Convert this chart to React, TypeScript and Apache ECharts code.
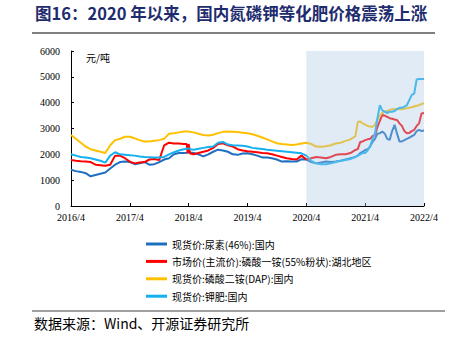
import React, { useEffect, useRef } from "react";
import * as echarts from "echarts";

// x positions: months since 2016/4
const months = [
  0, 1, 2, 3, 4, 5, 6, 7, 8, 9, 10, 11, 12, 13, 14, 15, 16, 17, 18, 19, 20, 21, 22, 23,
  23.6, 23.8, 24, 24.3,
  25, 26, 27, 28, 29, 30, 31, 32, 33, 34, 35, 36, 37, 38, 39, 40, 41, 42, 43, 44, 45, 46,
  47, 48, 49, 50, 51, 52, 53, 54, 55, 56, 57, 58,
  58.5, 59, 59.5, 60, 60.5, 61, 61.5, 62, 62.5, 63, 63.5, 64, 64.5, 65, 65.5, 66, 66.5, 67,
  67.5, 68, 68.5, 69, 69.5, 70, 70.5, 71, 71.5, 72,
];

const seriesNames = [
  "现货价:尿素(46%):国内",
  "市场价(主流价):磷酸一铵(55%粉状):湖北地区",
  "现货价:磷酸二铵(DAP):国内",
  "现货价:钾肥:国内",
];

const urea = [
  1400, 1350, 1320, 1270, 1150, 1200, 1250, 1300, 1450, 1600, 1700, 1720, 1700, 1620, 1650, 1700, 1600, 1620, 1700, 1800, 1850, 2000, 2050, 2050,
  2060, 2070, 2080, 2070,
  2050, 2000, 1920, 2000, 2100, 2180, 2150, 2100, 2000, 1980,
  2030, 2040, 2000, 1950, 1880, 1880, 1850, 1800, 1720, 1730,
  1720, 1720, 1810, 1800, 1700, 1650, 1680, 1720, 1700, 1720,
  1750, 1800, 1850, 1900,
  1950, 2050, 2100, 2170, 2200, 2300, 2480, 2600, 2800, 2820,
  2880, 2800, 2600, 2560, 2900, 3140, 2800, 2500, 2500, 2550,
  2600, 2650, 2700, 2750, 2900, 2950, 2900, 2920,
];

const map = [
  1780, 1750, 1730, 1720, 1700, 1600, 1580, 1560, 1600, 1950, 1950, 1850, 1720, 1650, 1680, 1700, 1800, 1820, 1780, 2350, 2450, 2420, 2420, 2400,
  2400, 2050, 2400, 2030,
  2000, 2050, 2100, 2150, 2250, 2400, 2430, 2350, 2300, 2200,
  2150, 2120, 2100, 2080, 2050, 2040, 2000, 1950, 1900, 1850,
  1820, 1800, 1950, 1800, 1850, 1900, 1880, 1850, 1900, 1980,
  2000, 2000, 2050, 2170,
  2200, 2480, 2500, 2550, 2580, 2600, 2700, 2750, 3050, 3300,
  3530, 3500, 3450, 3400, 3380, 3350, 3330, 3200, 3100, 2900,
  2820, 2830, 2900, 2950, 3100, 3200, 3580, 3600,
];

const dap = [
  2750, 2600, 2450, 2300, 2200, 2150, 2100, 2050, 2350, 2550, 2600, 2680, 2680, 2620, 2550, 2500, 2500, 2530, 2550, 2600, 2800, 2820, 2850, 2880,
  2880, 2880, 2880, 2870,
  2850, 2800, 2750, 2730, 2760, 2820, 2870, 2880, 2870, 2860,
  2840, 2820, 2780, 2720, 2650, 2580, 2500, 2430, 2400, 2380,
  2360, 2380, 2420, 2450, 2400, 2300, 2290, 2310, 2350, 2420,
  2450, 2520, 2580, 2700,
  3250, 3270, 3200, 3150, 3100, 3080, 3060, 3150, 3350, 3500,
  3600, 3650, 3680, 3720, 3750, 3750, 3760, 3750, 3750, 3760,
  3780, 3800, 3820, 3850, 3880, 3900, 3950, 3980,
];

const potash = [
  2000, 1950, 1900, 1880, 1850, 1800, 1750, 1680, 1950, 2080, 2000, 1980, 1960, 1950, 1920, 1900, 1890, 1880, 1880, 1900, 2000, 2080, 2150, 2200,
  2220, 2220, 2230, 2200,
  2180, 2220, 2250, 2280, 2300, 2450, 2480, 2380, 2350, 2340,
  2330, 2300, 2250, 2230, 2210, 2180, 2160, 2140, 2120, 2100,
  2080, 2060, 2040, 1950, 1750, 1650, 1620, 1620, 1650, 1700,
  1750, 1780, 1820, 1900,
  1950, 2000, 2050, 2050, 2150, 2300, 2600, 2800, 3400, 3900,
  3700, 3650, 3600, 3650, 3650, 3680, 3750, 3800, 3800, 3850,
  3900, 4100, 4300, 4350, 4900, 4920, 4920, 4920,
];

const seriesValues = [urea, map, dap, potash];
const seriesColors = ["#1f6fc0", "#ff0000", "#ffc000", "#14b0ef"];

const shadeStart = 48; // 2020/4
const shadeEnd = 72; // 2022/4

const TITLE = "图16：2020 年以来，国内氮磷钾等化肥价格震荡上涨";
const SOURCE = "数据来源：Wind、开源证券研究所";
const UNIT = "元/吨";

const CJK = '"Noto Sans CJK SC", sans-serif';
const SERIF = '"Liberation Serif", "Times New Roman", serif';

function monthLabel(m: number): string {
  const total = Math.round(m) + 3;
  const year = 2016 + Math.floor(total / 12);
  const mon = (total % 12) + 1;
  return `${year}/${mon}`;
}

export default function App() {
  const ref = useRef<HTMLDivElement>(null);

  useEffect(() => {
    if (!ref.current) return;
    const chart = echarts.init(ref.current, null, { renderer: "svg" });

    const series: any[] = seriesNames.map((name, i) => ({
      name,
      type: "line",
      data: months.map((m, j) => [m, seriesValues[i][j]]),
      symbol: "none",
      showSymbol: false,
      color: seriesColors[i],
      lineStyle: { width: 2, color: seriesColors[i] },
      z: 2,
    }));

    series.push({
      name: "shade",
      type: "line",
      data: [[shadeStart, 0]],
      symbol: "none",
      lineStyle: { opacity: 0 },
      silent: true,
      markArea: {
        silent: true,
        z: 10,
        itemStyle: { color: "rgba(170,200,230,0.36)" },
        data: [[{ xAxis: shadeStart, yAxis: 0 }, { xAxis: shadeEnd, yAxis: 6000 }]],
      },
    });

    chart.setOption({
      animation: false,
      grid: { left: 71, right: 31, top: 51, bottom: 131 },
      xAxis: {
        type: "value",
        min: 0,
        max: 72,
        interval: 12,
        splitLine: { show: false },
        axisLine: { show: true, lineStyle: { color: "#000", width: 1 } },
        axisTick: { show: true, inside: true, length: 3, lineStyle: { color: "#000" } },
        axisLabel: {
          color: "#000",
          fontSize: 10,
          fontFamily: SERIF,
          margin: 6,
          formatter: (v: number) => monthLabel(v),
        },
      },
      yAxis: {
        type: "value",
        min: 0,
        max: 6000,
        interval: 1000,
        splitLine: { show: false },
        axisLine: { show: true, lineStyle: { color: "#000", width: 1 } },
        axisTick: { show: true, inside: true, length: 3, lineStyle: { color: "#000" } },
        axisLabel: {
          color: "#000",
          fontSize: 10,
          fontFamily: SERIF,
          margin: 11,
          formatter: (v: number) => String(v),
        },
      },
      legend: {
        data: seriesNames,
        orient: "vertical",
        left: 141,
        top: 233,
        itemWidth: 21,
        itemHeight: 3,
        itemGap: 5.4,
        icon: "rect",
        textStyle: { fontSize: 10, fontFamily: CJK, color: "#000", lineHeight: 12 },
      },
      graphic: [
        {
          type: "text",
          left: 35,
          top: 5,
          style: { text: TITLE, fill: "#1e2c6e", font: `bold 16.5px ${CJK}` },
        },
        {
          type: "line",
          shape: { x1: 32, y1: 33, x2: 435, y2: 33 },
          style: { stroke: "#808080", lineWidth: 2 },
        },
        {
          type: "text",
          left: 86,
          top: 52,
          style: { text: UNIT, fill: "#000", font: `10px ${CJK}` },
        },
        {
          type: "line",
          shape: { x1: 32, y1: 311, x2: 445, y2: 311 },
          style: { stroke: "#404040", lineWidth: 1 },
        },
        {
          type: "text",
          left: 34,
          top: 316,
          style: { text: SOURCE, fill: "#000", font: `14px ${CJK}` },
        },
      ],
      series,
    });

    return () => chart.dispose();
  }, []);

  return (
    <div
      ref={ref}
      style={{ position: "fixed", left: 0, top: 0, width: 455, height: 337, background: "#fff" }}
    />
  );
}
